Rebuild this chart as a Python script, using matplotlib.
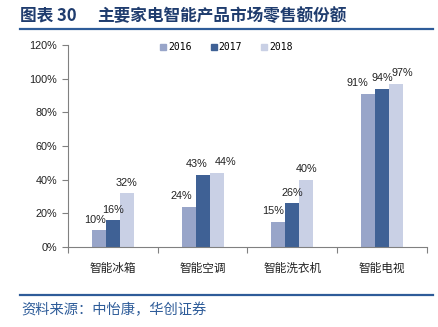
import numpy as np
import matplotlib
matplotlib.use('Agg')
import matplotlib.pyplot as plt
from matplotlib.lines import Line2D
import matplotlib.ticker as mtick

plt.rcParams['font.family'] = ['Liberation Sans', 'Noto Sans CJK SC', 'DejaVu Sans']

categories = ['智能冰箱', '智能空调', '智能洗衣机', '智能电视']
years = ['2016', '2017', '2018']
share_2016 = [10, 24, 15, 91]
share_2017 = [16, 43, 26, 94]
share_2018 = [32, 44, 40, 97]
y_ticks = [0, 20, 40, 60, 80, 100, 120]

colors = ['#98A5C9', '#3F6195', '#C9D0E5']
# label nudges (pixels) so they sit like the Excel original
label_dx = [[-4, -7, -5, -11], [0, -6, 0, 0], [0, 9, 0, 6]]

fig = plt.figure(figsize=(4.39, 3.27), dpi=100)
ax = fig.add_axes([68 / 439, 80 / 327, 359 / 439, 202 / 327])

x = np.arange(len(categories)) + 0.5
w = 0.156
series = [share_2016, share_2017, share_2018]
for i, vals in enumerate(series):
    pos = x + (i - 1) * w
    ax.bar(pos, vals, width=w, color=colors[i], label=years[i], zorder=2)
    for j, v in enumerate(vals):
        ax.annotate(f'{v}%', (pos[j], v), xytext=(label_dx[i][j] * 0.72, 4),
                    textcoords='offset points', ha='center', va='bottom',
                    fontsize=7.8, color='#222222')

ax.set_xlim(0, 4)
ax.set_ylim(0, 120)
ax.set_yticks(y_ticks)
ax.yaxis.set_major_formatter(mtick.StrMethodFormatter('{x:.0f}%'))
ax.set_xticks([0, 1, 2, 3, 4])
ax.set_xticklabels([])
ax.set_xticks(x, minor=True)
ax.set_xticklabels(categories, minor=True, fontsize=8.4, color='#222222',
                   family=['Noto Sans CJK SC', 'DejaVu Sans'])
ax.tick_params(axis='x', which='minor', length=0, pad=11)
ax.tick_params(axis='x', which='major', length=4, direction='out', color='#808080')
ax.tick_params(axis='y', length=4, direction='out', color='#808080',
               labelsize=7.8, labelcolor='#222222', pad=4)
for s in ['top', 'right']:
    ax.spines[s].set_visible(False)
for s in ['left', 'bottom']:
    ax.spines[s].set_color('#808080')
    ax.spines[s].set_linewidth(0.8)

handles = [Line2D([], [], marker='s', linestyle='none', markersize=4,
                  markerfacecolor=c, markeredgecolor=c) for c in colors]
ax.legend(handles, years, ncol=3, loc='center', bbox_to_anchor=(0.44, 0.99),
          frameon=False, handletextpad=0.1, columnspacing=1.9,
          handlelength=0.8, prop={'family': 'DejaVu Sans Mono', 'size': 7})

# header / footer decoration
fig.text(20 / 439, 1 - 16 / 327, '图表 30', fontsize=12, fontweight='bold',
         color='#1F3C6E', va='center', family=['Noto Sans CJK SC', 'DejaVu Sans'])
fig.text(97 / 439, 1 - 16 / 327, '主要家电智能产品市场零售额份额', fontsize=12,
         fontweight='bold', color='#1F3C6E', va='center',
         family=['Noto Sans CJK SC', 'DejaVu Sans'])
fig.add_artist(Line2D([20 / 439, 433 / 439], [1 - 29 / 327, 1 - 29 / 327],
                      color='#2E5C99', linewidth=1.6))
fig.add_artist(Line2D([20 / 439, 433 / 439], [1 - 295 / 327, 1 - 295 / 327],
                      color='#2E5C99', linewidth=1.6))
fig.text(21 / 439, 1 - 310 / 327, '资料来源：中怡康，华创证券', fontsize=10.3,
         color='#2E5C99', va='center', style='italic',
         family=['Noto Sans CJK SC', 'DejaVu Sans'])

fig.savefig('out.png', dpi=100)
